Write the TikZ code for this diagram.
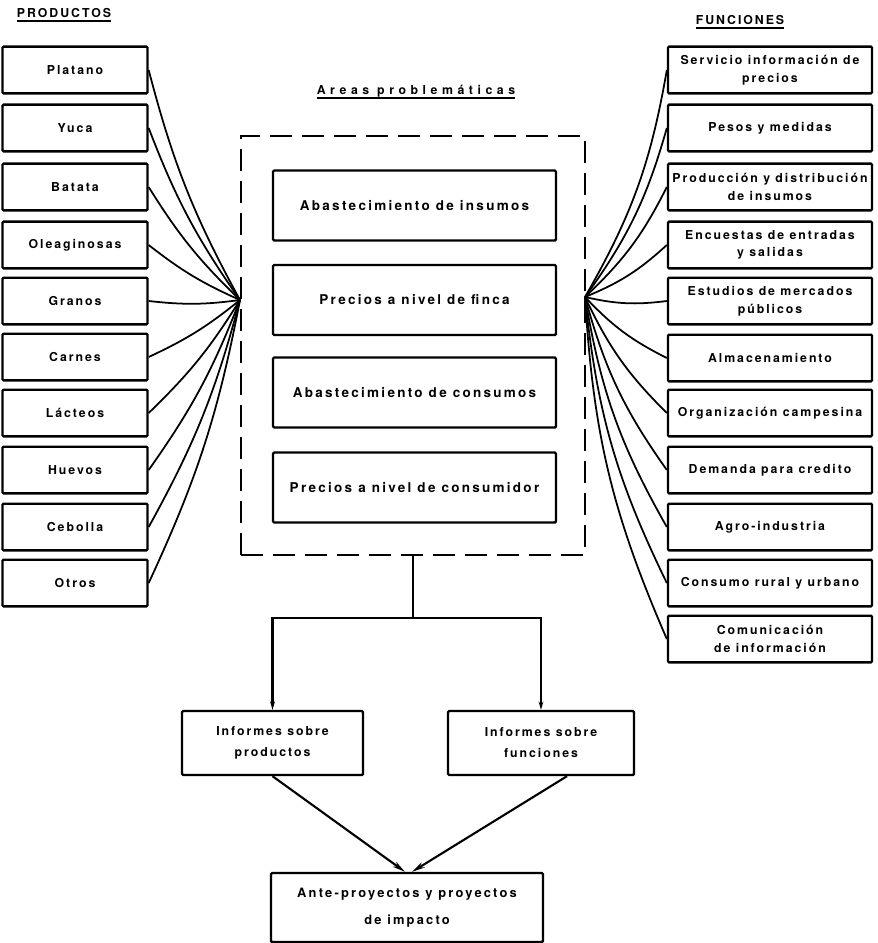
\documentclass[tikz,border=0pt]{standalone}
\usepackage{fontspec}
\newfontfamily\labfont{TeX Gyre Heros}[LetterSpace=16]
\newfontfamily\midfont{TeX Gyre Heros}[LetterSpace=17]
\newfontfamily\widefont{TeX Gyre Heros}[LetterSpace=37]
\usetikzlibrary{arrows.meta,positioning}

\begin{document}
\begin{tikzpicture}[
  x=0.03cm, y=0.03cm,
  every node/.style={font=\labfont\bfseries\fontsize{10.5}{15}\selectfont},
  prodbox/.style={
    rectangle, rounded corners=1pt,
    minimum width=4.35cm, minimum height=1.4cm,
    draw, line width=2pt, align=center, inner sep=1pt
  },
  funcbox/.style={prodbox, minimum width=6.12cm},
  areabox/.style={prodbox, minimum width=8.49cm, minimum height=2.1cm,
    font=\midfont\bfseries\fontsize{11.5}{15}\selectfont},
  infobox/.style={prodbox, minimum height=1.92cm},
  dashbox/.style={
    rectangle, draw, line width=1.8pt,
    dash pattern=on 0.66cm off 0.3cm,
    minimum width=10.32cm, minimum height=12.57cm
  },
  title/.style={inner sep=0pt},
  uline/.style={line width=1.8pt},
  fanline/.style={line width=1.5pt},
  flowline/.style={line width=1.8pt},
  flowarrow/.style={-{Stealth[length=7pt,width=4pt]}, line width=1.8pt},
  bigarrow/.style={-{Stealth[length=11pt,width=5pt]}, line width=1.8pt}
]
\useasboundingbox (0,0) rectangle (878,-943);

% titulos
\node[title] (prodtitle) at (64,-13) {PRODUCTOS};
\node[title] (functitle) at (740,-20) {FUNCIONES};
\node[title, font=\widefont\bfseries\fontsize{10.5}{15}\selectfont] (areatitle) at (416,-91) {Areas problemáticas};
\draw[uline] ([yshift=-3pt]prodtitle.south west) -- ([yshift=-3pt]prodtitle.south east);
\draw[uline] ([yshift=-3pt]functitle.south west) -- ([yshift=-3pt]functitle.south east);
\draw[uline] ([yshift=-1pt]areatitle.south west) -- ([yshift=-1pt]areatitle.south east);

% productos
\node[prodbox] (platano) at (75,-70)  {Platano};
\node[prodbox] (yuca)    at (75,-128) {Yuca};
\node[prodbox] (batata)  at (75,-187) {Batata};
\node[prodbox] (oleag)   at (75,-245) {Oleaginosas};
\node[prodbox] (granos)  at (75,-301) {Granos};
\node[prodbox] (carnes)  at (75,-357) {Carnes};
\node[prodbox] (lacteos) at (75,-413) {Lácteos};
\node[prodbox] (huevos)  at (75,-470) {Huevos};
\node[prodbox] (cebolla) at (75,-527) {Cebolla};
\node[prodbox] (otros)   at (75,-583) {Otros};

% funciones
\node[funcbox] (servicio) at (770,-70)  {Servicio información de\\precios};
\node[funcbox] (pesos)    at (770,-128) {Pesos y medidas};
\node[funcbox] (produc)   at (770,-187) {Producción y distribución\\de insumos};
\node[funcbox] (encuest)  at (770,-245) {Encuestas de entradas\\y salidas};
\node[funcbox] (estud)    at (770,-301) {Estudios de mercados\\públicos};
\node[funcbox] (almac)    at (770,-358) {Almacenamiento};
\node[funcbox] (organiz)  at (770,-413) {Organización campesina};
\node[funcbox] (demanda)  at (770,-470) {Demanda para credito};
\node[funcbox] (agro)     at (770,-527) {Agro-industria};
\node[funcbox] (consumo)  at (770,-583) {Consumo rural y urbano};
\node[funcbox] (comunic)  at (770,-639) {Comunicación\\de información};

% areas problematicas
\node[dashbox] (areas) at (413,-345.5) {};
\node[areabox] (abins)  at (414.5,-205.5) {Abastecimiento de insumos};
\node[areabox] (prefin) at (414.5,-300)   {Precios a nivel de finca};
\node[areabox] (abcon)  at (414.5,-392.5) {Abastecimiento de consumos};
\node[areabox] (precon) at (414.5,-487.5) {Precios a nivel de consumidor};

\coordinate (pl) at (240,-300);
\coordinate (pr) at (585,-297);

\draw[fanline] (platano.east) to[bend right=7] (pl);
\draw[fanline] (yuca.east)    to[bend right=7] (pl);
\draw[fanline] (batata.east)  to[bend right=7] (pl);
\draw[fanline] (oleag.east)   to[bend right=7] (pl);
\draw[fanline] (granos.east)  to[bend right=7] (pl);
\draw[fanline] (carnes.east)  to[bend right=7] (pl);
\draw[fanline] (lacteos.east) to[bend right=7] (pl);
\draw[fanline] (huevos.east)  to[bend right=7] (pl);
\draw[fanline] (cebolla.east) to[bend right=7] (pl);
\draw[fanline] (otros.east)   to[bend right=7] (pl);

\draw[fanline] (servicio.west) to[bend left=10] (pr);
\draw[fanline] (pesos.west)    to[bend left=10] (pr);
\draw[fanline] (produc.west)   to[bend left=10] (pr);
\draw[fanline] (encuest.west)  to[bend left=10] (pr);
\draw[fanline] (estud.west)    to[bend left=10] (pr);
\draw[fanline] (almac.west)    to[bend left=10] (pr);
\draw[fanline] (organiz.west)  to[bend left=10] (pr);
\draw[fanline] (demanda.west)  to[bend left=10] (pr);
\draw[fanline] (agro.west)     to[bend left=10] (pr);
\draw[fanline] (consumo.west)  to[bend left=10] (pr);
\draw[fanline] (comunic.west)  to[bend left=10] (pr);

% informes
\node[infobox, minimum width=5.43cm] (infp) at (272.5,-743) {Informes sobre\\[3pt]productos};
\node[infobox, minimum width=5.58cm] (infr) at (541,-743)   {Informes sobre\\[3pt]funciones};
\node[infobox, minimum width=8.16cm, minimum height=2.07cm, font=\midfont\bfseries\fontsize{11}{15}\selectfont] (ante) at (407,-907.5) {Ante-proyectos y proyectos\\[8pt]de impacto};

\coordinate (split) at (413,-618);
\draw[flowline] (areas.south) -- (split);
\draw[flowarrow] (split) -| (infp.north);
\draw[flowarrow] (split) -| (infr.north);
\draw[bigarrow] (infp.south) -- ([xshift=-0.06cm]ante.north);
\draw[bigarrow] ([xshift=0.78cm]infr.south) -- ([xshift=0.15cm]ante.north);
\end{tikzpicture}
\end{document}
